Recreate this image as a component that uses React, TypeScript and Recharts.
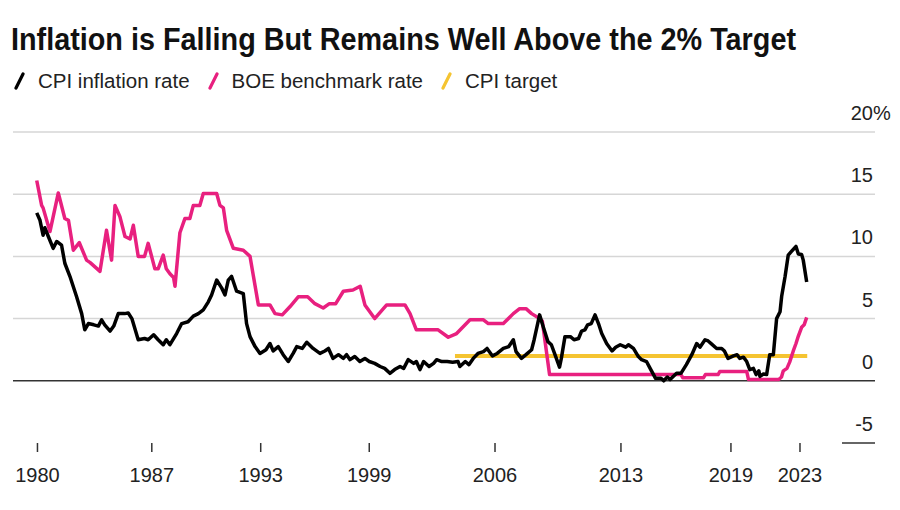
import { LineChart, Line, XAxis, YAxis, ReferenceLine } from "recharts";

// time positions are decimal years on the chart's own axis
const cpiYears = [
  1980.65, 1980.83, 1981.0, 1981.1, 1981.29, 1981.56, 1981.75, 1982.02, 1982.2, 1982.48,
  1982.85, 1983.13, 1983.3, 1983.5, 1983.8, 1984.05, 1984.23, 1984.4, 1984.7, 1984.9,
  1985.15, 1985.5, 1985.7, 1985.9, 1986.25, 1986.6, 1986.8, 1987.1, 1987.35, 1987.63,
  1987.8, 1988.0, 1988.37, 1988.65, 1989.0, 1989.29, 1989.57, 1989.84, 1990.12, 1990.3,
  1990.58, 1990.86, 1991.04, 1991.22, 1991.4, 1991.68, 1992.05, 1992.23, 1992.42, 1992.7,
  1992.97, 1993.3, 1993.52, 1993.7, 1993.98, 1994.25, 1994.53, 1994.8, 1995.0, 1995.3,
  1995.55, 1995.9, 1996.28, 1996.55, 1996.75, 1997.0, 1997.3, 1997.57, 1997.75, 1997.94,
  1998.2, 1998.48, 1998.76, 1999.0, 1999.3, 1999.6, 1999.85, 2000.14, 2000.4, 2000.7,
  2000.9, 2001.15, 2001.45, 2001.6, 2001.8, 2002.0, 2002.3, 2002.55, 2002.72, 2003.0,
  2003.3, 2003.6, 2003.9, 2004.0, 2004.3, 2004.5, 2004.74, 2005.0, 2005.3, 2005.5,
  2005.8, 2006.06, 2006.4, 2006.7, 2006.95, 2007.1, 2007.4, 2007.65, 2007.96, 2008.1,
  2008.4, 2008.6, 2008.86, 2009.05, 2009.25, 2009.5, 2009.6, 2009.8, 2010.1, 2010.3,
  2010.55, 2010.72, 2010.9, 2011.05, 2011.25, 2011.46, 2011.65, 2011.83, 2012.1, 2012.4,
  2012.6, 2012.85, 2013.15, 2013.3, 2013.58, 2013.85, 2014.03, 2014.3, 2014.5, 2014.8,
  2015.1, 2015.25, 2015.45, 2015.6, 2015.96, 2016.2, 2016.5, 2016.8, 2017.07, 2017.25,
  2017.53, 2017.7, 2017.9, 2018.17, 2018.45, 2018.6, 2018.8, 2019.1, 2019.3, 2019.45,
  2019.65, 2019.83, 2020.0, 2020.2, 2020.35, 2020.5, 2020.56, 2020.75, 2020.93, 2021.1,
  2021.3, 2021.48, 2021.67, 2021.76, 2021.95, 2022.12, 2022.3, 2022.55, 2022.68, 2022.86,
  2022.95, 2023.14,
];
const cpiRates = [
  13.5, 12.9, 11.7, 12.3, 11.6, 10.65, 11.2, 10.9, 9.45, 8.4,
  6.75, 5.4, 4.1, 4.6, 4.5, 4.4, 4.9, 4.5, 4.0, 4.4,
  5.4, 5.4, 5.45, 5.0, 3.3, 3.4, 3.3, 3.7, 3.3, 2.9,
  3.3, 2.9, 3.8, 4.6, 4.75, 5.2, 5.4, 5.7, 6.35, 6.9,
  8.1, 7.45, 6.9, 8.1, 8.4, 7.2, 7.0, 4.6, 3.55, 2.75,
  2.2, 2.5, 3.0, 2.4, 2.75, 2.1, 1.55, 2.2, 2.75, 2.6,
  3.1, 2.6, 2.2, 2.4, 2.6, 1.8, 2.1, 1.8, 2.1, 1.7,
  1.95, 1.55, 1.8, 1.55, 1.4, 1.15, 1.0, 0.6, 0.9, 1.15,
  1.0, 1.7, 1.4, 1.55, 0.9, 1.55, 1.15, 1.4, 1.7, 1.55,
  1.55, 1.5, 1.55, 1.15, 1.55, 1.3, 1.8, 2.2, 2.35, 2.6,
  2.0, 2.2, 2.6, 2.75, 3.3, 2.35, 1.8, 2.1, 2.5, 3.3,
  5.3, 4.35, 3.15, 2.9, 2.1, 1.1, 1.8, 3.55, 3.55, 3.3,
  3.4, 4.0, 4.1, 4.5, 4.6, 5.3, 4.6, 3.8, 3.0, 2.4,
  2.7, 2.9, 2.7, 2.9, 2.6, 1.95, 1.7, 1.55, 1.0, 0.2,
  0.2, 0.0, 0.3, 0.1, 0.6, 0.6, 1.3, 2.1, 3.0, 2.7,
  3.3, 3.2, 2.95, 2.6, 2.6, 2.4, 1.8, 2.0, 2.1, 1.8,
  1.9, 1.55, 0.9, 1.0, 0.5, 0.8, 0.35, 0.55, 0.5, 2.1,
  2.1, 5.0, 5.55, 6.8, 8.4, 10.1, 10.4, 10.8, 10.2, 10.15,
  9.7, 7.95,
];

const boeYears = [
  1980.65, 1980.92, 1981.0, 1981.38, 1981.84, 1982.2, 1982.4, 1982.67, 1983.0, 1983.4,
  1983.6, 1984.14, 1984.5, 1984.78, 1984.97, 1985.24, 1985.52, 1985.8, 1985.98, 1986.25,
  1986.6, 1986.8, 1987.17, 1987.35, 1987.63, 1987.8, 1988.0, 1988.2, 1988.28, 1988.55,
  1988.83, 1989.1, 1989.29, 1989.65, 1989.84, 1990.58, 1990.76, 1990.95, 1991.13, 1991.5,
  1992.05, 1992.42, 1992.88, 1993.52, 1993.8, 1994.2, 1994.62, 1995.08, 1995.6, 1996.0,
  1996.46, 1996.8, 1997.15, 1997.57, 1998.1, 1998.5, 1998.76, 1999.3, 1999.96, 2000.97,
  2001.25, 2001.6, 2002.8, 2003.36, 2003.82, 2004.56, 2005.3, 2005.57, 2006.4, 2006.95,
  2007.3, 2007.65, 2007.96, 2008.4, 2008.55, 2008.95, 2016.2, 2016.3, 2017.45, 2017.55,
  2018.25, 2018.35, 2019.83, 2019.93, 2021.6, 2021.75, 2021.85, 2022.05, 2022.2, 2022.4,
  2022.55, 2022.68, 2022.86, 2023.0, 2023.14,
];
const boeRates = [
  16.1, 14.1, 13.9, 12.0, 15.1, 13.05, 12.9, 10.5, 11.1, 9.7,
  9.5, 8.8, 12.1, 9.7, 14.1, 13.2, 11.6, 11.4, 12.5, 10.0,
  10.0, 11.05, 9.0, 9.0, 10.1, 9.0, 8.6, 8.3, 7.6, 11.9,
  13.05, 13.05, 14.1, 14.1, 15.05, 15.05, 14.1, 13.9, 12.1, 10.65,
  10.5, 10.0, 6.1, 6.1, 5.4, 5.3, 5.95, 6.75, 6.75, 6.2,
  5.85, 6.2, 6.2, 7.2, 7.3, 7.6, 6.1, 5.0, 6.1, 6.1,
  5.4, 4.1, 4.1, 3.5, 3.8, 4.9, 4.9, 4.6, 4.6, 5.4,
  5.8, 5.8, 5.4, 5.0, 4.8, 0.5, 0.5, 0.25, 0.25, 0.5,
  0.5, 0.75, 0.75, 0.1, 0.1, 0.3, 0.8, 1.0, 1.5, 2.4,
  3.0, 3.6, 4.3, 4.5, 5.1,
];

const targetYears = [2003.73, 2023.17];
const targetRates = [2, 2];

const xTickYears = [1980.69, 1987.0, 1993.01, 1999.0, 2005.94, 2012.89, 2018.96, 2022.77];
const xTickLabels = ["1980", "1987", "1993", "1999", "2006", "2013", "2019", "2023"];
const yTicks = [-5, 0, 5, 10, 15, 20];
const gridValues = [5, 10, 15, 20];

const CPI_COLOR = "#000000";
const BOE_COLOR = "#e8207f";
const TARGET_COLOR = "#f5c431";
const FONT = "'Liberation Sans', Arial, sans-serif";

const cpiData = cpiYears.map((t, i) => ({ t, v: cpiRates[i] }));
const boeData = boeYears.map((t, i) => ({ t, v: boeRates[i] }));
const targetData = targetYears.map((t, i) => ({ t, v: targetRates[i] }));

function XTick(props: any) {
  const { x, y, payload } = props;
  const idx = xTickYears.indexOf(payload.value);
  return (
    <g>
      <line x1={x} x2={x} y1={y} y2={y + 9} stroke="#333" strokeWidth={1.5} />
      <text x={x} y={y + 39} textAnchor="middle" fontSize={20} fill="#222" fontFamily={FONT}>
        {xTickLabels[idx]}
      </text>
    </g>
  );
}

function YTick(props: any) {
  const { x, y, payload } = props;
  const v = payload.value;
  return (
    <g>
      {v === -5 && <line x1={x - 33} x2={x} y1={y} y2={y} stroke="#333" strokeWidth={1.5} />}
      <text x={x - 2} y={y - 12} textAnchor="end" fontSize={20} fill="#222" fontFamily={FONT}>
        {v}
      </text>
      {v === 20 && (
        <text x={x - 2} y={y - 12} textAnchor="start" fontSize={20} fill="#222" fontFamily={FONT}>
          %
        </text>
      )}
    </g>
  );
}

function LegendIcon({ color }: { color: string }) {
  return (
    <svg width={12} height={20} style={{ marginRight: 13, flexShrink: 0 }}>
      <line x1={3} y1={17} x2={10} y2={3} stroke={color} strokeWidth={3.2} strokeLinecap="round" />
    </svg>
  );
}

export default function App() {
  const legendItems = [
    { label: "CPI inflation rate", color: CPI_COLOR },
    { label: "BOE benchmark rate", color: BOE_COLOR },
    { label: "CPI target", color: TARGET_COLOR },
  ];
  return (
    <div style={{ position: "absolute", left: 0, top: 0, width: 900, height: 510, background: "#fff", overflow: "hidden" }}>
      <svg width={900} height={60} style={{ position: "absolute", left: 0, top: 0 }}>
        <text
          x={11}
          y={50}
          fontSize={31}
          fontWeight={700}
          fontFamily={FONT}
          fill="#111"
          textLength={785}
          lengthAdjust="spacingAndGlyphs"
        >
          Inflation is Falling But Remains Well Above the 2% Target
        </text>
      </svg>
      <div
        style={{
          position: "absolute", left: 13, top: 69, display: "flex", alignItems: "center",
          fontSize: 20.5, fontFamily: FONT, color: "#222", whiteSpace: "nowrap",
        }}
      >
        {legendItems.map((it) => (
          <div key={it.label} style={{ display: "flex", alignItems: "center", marginRight: 17 }}>
            <LegendIcon color={it.color} />
            <span>{it.label}</span>
          </div>
        ))}
      </div>
      <div style={{ position: "absolute", left: 0, top: 0 }}>
        <LineChart width={900} height={510} margin={{ top: 132, right: 0, bottom: 37, left: 13 }}>
          <XAxis
            dataKey="t"
            type="number"
            domain={[1979.34, 2026.91]}
            ticks={xTickYears}
            axisLine={false}
            tickLine={false}
            tickSize={0}
            tickMargin={0}
            height={30}
            interval={0}
            allowDataOverflow
            tick={<XTick />}
          />
          <YAxis
            orientation="right"
            type="number"
            domain={[-5, 20]}
            ticks={yTicks}
            axisLine={false}
            tickLine={false}
            tickSize={0}
            tickMargin={0}
            width={25}
            interval={0}
            tick={<YTick />}
          />
          {gridValues.map((g) => (
            <ReferenceLine key={g} y={g} stroke="#d6d6d6" strokeWidth={1.5} />
          ))}
          <ReferenceLine y={0} stroke="#333" strokeWidth={1.5} />
          <Line data={targetData} dataKey="v" stroke={TARGET_COLOR} strokeWidth={4} dot={false} isAnimationActive={false} />
          <Line data={boeData} dataKey="v" stroke={BOE_COLOR} strokeWidth={3.5} dot={false} strokeLinejoin="round" isAnimationActive={false} />
          <Line data={cpiData} dataKey="v" stroke={CPI_COLOR} strokeWidth={3.5} dot={false} strokeLinejoin="round" isAnimationActive={false} />
        </LineChart>
      </div>
    </div>
  );
}
